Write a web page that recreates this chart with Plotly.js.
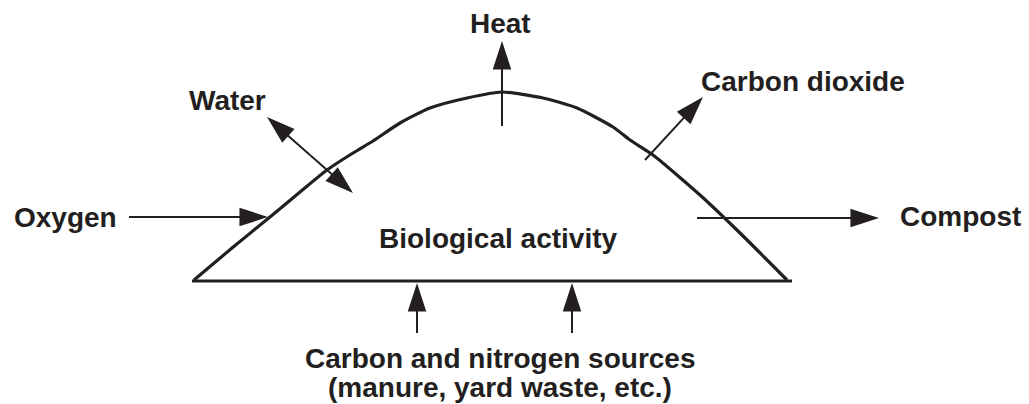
<!DOCTYPE html>
<html>
<head>
<meta charset="utf-8">
<script src="https://cdn.plot.ly/plotly-3.0.1.min.js"></script>
<style>
  html, body { margin: 0; padding: 0; background: #ffffff; }
  #chart { width: 1029px; height: 404px; }
</style>
</head>
<body>
<div id="chart"></div>
<script>
// Pile outline (diagram coordinates, y grows downward)
const pileX = [194, 232, 270, 300, 327, 353, 373, 400, 430, 467, 502, 543, 577, 613, 630, 653, 700, 740, 787];
const pileY = [280, 248, 217, 192, 170, 153, 141, 123, 108, 98, 92, 98, 108, 127, 140, 155, 195, 233, 280];
const baseX = [192, 792];
const baseY = [281, 281];

// Arrows: tail -> tip
const arrowNames = ["Heat", "Carbon dioxide", "Water out", "Water in", "Oxygen", "Compost", "Source 1", "Source 2"];
const arrowX0 = [502, 645, 310, 310, 129, 697, 417, 572];
const arrowY0 = [126, 160, 155, 155, 217, 218, 333, 333];
const arrowX1 = [502, 703, 267, 353, 268, 879, 417, 572];
const arrowY1 = [41, 97, 117, 193, 217, 218, 283, 283];

// Labels
const labelText = ["Heat", "Carbon dioxide", "Water", "Oxygen", "Compost", "Biological activity",
                   "Carbon and nitrogen sources", "(manure, yard waste, etc.)"];
const labelX = [500.5, 803, 227, 65, 960.5, 497.5, 500, 500];
const labelY = [23, 81, 100, 217, 216, 238, 358, 387];

const ink = "#231f20";
const traces = [];

traces.push({
  x: pileX, y: pileY, type: "scatter", mode: "lines",
  line: { color: ink, width: 3.2, shape: "spline", smoothing: 0.6 }, hoverinfo: "skip"
});
traces.push({
  x: baseX, y: baseY, type: "scatter", mode: "lines",
  line: { color: ink, width: 3 }, hoverinfo: "skip"
});

for (let i = 0; i < arrowNames.length; i++) {
  traces.push({
    name: arrowNames[i],
    x: [arrowX0[i], arrowX1[i]],
    y: [arrowY0[i], arrowY1[i]],
    type: "scatter",
    mode: "lines+markers",
    line: { color: ink, width: 2 },
    marker: {
      symbol: ["circle", "arrow"],
      size: [0, 30],
      color: ink,
      opacity: 1,
      angleref: "previous",
      line: { width: 0 }
    },
    hoverinfo: "skip"
  });
}

const annotations = labelText.map((t, i) => ({
  text: t, x: labelX[i], y: labelY[i], xref: "x", yref: "y",
  showarrow: false, xanchor: "center", yanchor: "middle",
  font: { family: "Liberation Sans, Arial, Helvetica, sans-serif", size: 28, color: ink, weight: "bold" }
}));

const layout = {
  width: 1029, height: 404,
  margin: { l: 0, r: 0, t: 0, b: 0, pad: 0 },
  paper_bgcolor: "#ffffff", plot_bgcolor: "#ffffff",
  showlegend: false,
  xaxis: { range: [0, 1029], visible: false, fixedrange: true },
  yaxis: { range: [404, 0], visible: false, fixedrange: true },
  annotations: annotations
};

Plotly.newPlot("chart", traces, layout, { staticPlot: true, displayModeBar: false });
</script>
</body>
</html>
